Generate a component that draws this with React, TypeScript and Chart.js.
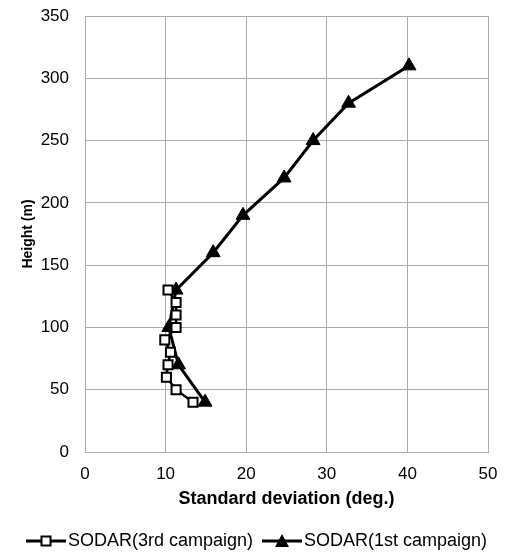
import { useEffect, useRef } from 'react';
import { Chart, registerables } from 'chart.js';
Chart.register(...registerables);

const heights3rd = [40, 50, 60, 70, 80, 90, 100, 110, 120, 130];
const sd3rd = [13.4, 11.3, 10.1, 10.3, 10.6, 9.9, 11.3, 11.3, 11.3, 10.3];
const heights1st = [40, 70, 100, 130, 160, 190, 220, 250, 280, 310];
const sd1st = [14.9, 11.6, 10.4, 11.3, 15.9, 19.6, 24.7, 28.3, 32.7, 40.2];
const seriesNames = ['SODAR(3rd campaign)', 'SODAR(1st campaign)'];
const xTitle = 'Standard deviation (deg.)';
const yTitle = 'Height (m)';

const FONT = "'Liberation Sans', Arial, sans-serif";
const GRID = '#ababab';

function legendIcon(kind: 'square' | 'triangle'): HTMLCanvasElement {
  const c = document.createElement('canvas');
  c.width = 40;
  c.height = 16;
  const g = c.getContext('2d')!;
  g.strokeStyle = '#000';
  g.lineWidth = 3;
  g.beginPath();
  g.moveTo(0, 8);
  g.lineTo(40, 8);
  g.stroke();
  if (kind === 'square') {
    g.fillStyle = '#fff';
    g.lineWidth = 2;
    g.fillRect(15.5, 3.5, 9, 9);
    g.strokeRect(15.5, 3.5, 9, 9);
  } else {
    g.fillStyle = '#000';
    g.beginPath();
    g.moveTo(20, 1);
    g.lineTo(27, 14);
    g.lineTo(13, 14);
    g.closePath();
    g.fill();
  }
  return c;
}

export default function App() {
  const ref = useRef<HTMLCanvasElement>(null);
  useEffect(() => {
    document.body.style.margin = '0';
    const icons = [legendIcon('square'), legendIcon('triangle')];
    const chart = new Chart(ref.current!, {
      type: 'scatter',
      data: {
        datasets: [
          {
            label: seriesNames[0],
            data: heights3rd.map((h, i) => ({ x: sd3rd[i], y: h })),
            showLine: true,
            borderColor: '#000',
            borderWidth: 2.5,
            pointStyle: 'rect',
            pointRadius: 6.4,
            pointBackgroundColor: '#fff',
            pointBorderColor: '#000',
            pointBorderWidth: 2,
            tension: 0,
          },
          {
            label: seriesNames[1],
            data: heights1st.map((h, i) => ({ x: sd1st[i], y: h })),
            showLine: true,
            borderColor: '#000',
            borderWidth: 3,
            pointStyle: 'triangle',
            pointRadius: 8,
            pointBackgroundColor: '#000',
            pointBorderColor: '#000',
            pointBorderWidth: 1,
            tension: 0,
          },
        ],
      },
      options: {
        responsive: false,
        animation: false,
        layout: { padding: { left: 12, right: 0, top: 0, bottom: -8 } },
        scales: {
          x: {
            type: 'linear',
            min: 0,
            max: 50,
            ticks: { stepSize: 10, color: '#000', padding: 12, font: { family: FONT, size: 17 } },
            grid: { color: GRID, drawTicks: false, lineWidth: 1 },
            border: { color: GRID },
            title: { display: true, text: xTitle, color: '#000', padding: { top: 4, bottom: 6 }, font: { family: FONT, size: 18, weight: 'bold' } },
            afterFit: (s: any) => { s.height = 64; s.paddingLeft = 0; s.paddingRight = 20; },
          },
          y: {
            type: 'linear',
            min: 0,
            max: 350,
            ticks: { stepSize: 50, color: '#000', padding: 16, font: { family: FONT, size: 17 } },
            grid: { color: GRID, drawTicks: false, lineWidth: 1 },
            border: { color: GRID },
            title: { display: true, text: yTitle, color: '#000', padding: { top: 8, bottom: 0 }, font: { family: FONT, size: 14, weight: 'bold' } },
            afterFit: (s: any) => { s.width = 73; s.paddingTop = 16; s.paddingBottom = 0; },
          },
        },
        plugins: {
          tooltip: { enabled: false },
          legend: {
            position: 'bottom',
            labels: {
              usePointStyle: true,
              pointStyleWidth: 26,
              padding: 16,
              color: '#000',
              font: { family: FONT, size: 18 },
              generateLabels: (ch: any) =>
                Chart.defaults.plugins.legend.labels.generateLabels(ch).map((l: any, i: number) => ({
                  ...l,
                  pointStyle: icons[i],
                })),
            },
          },
        },
      },
    } as any);
    return () => chart.destroy();
  }, []);
  return (
    <div style={{ width: 508, height: 552 }}>
      <canvas ref={ref} width={508} height={552} style={{ width: 508, height: 552, display: 'block' }} />
    </div>
  );
}
